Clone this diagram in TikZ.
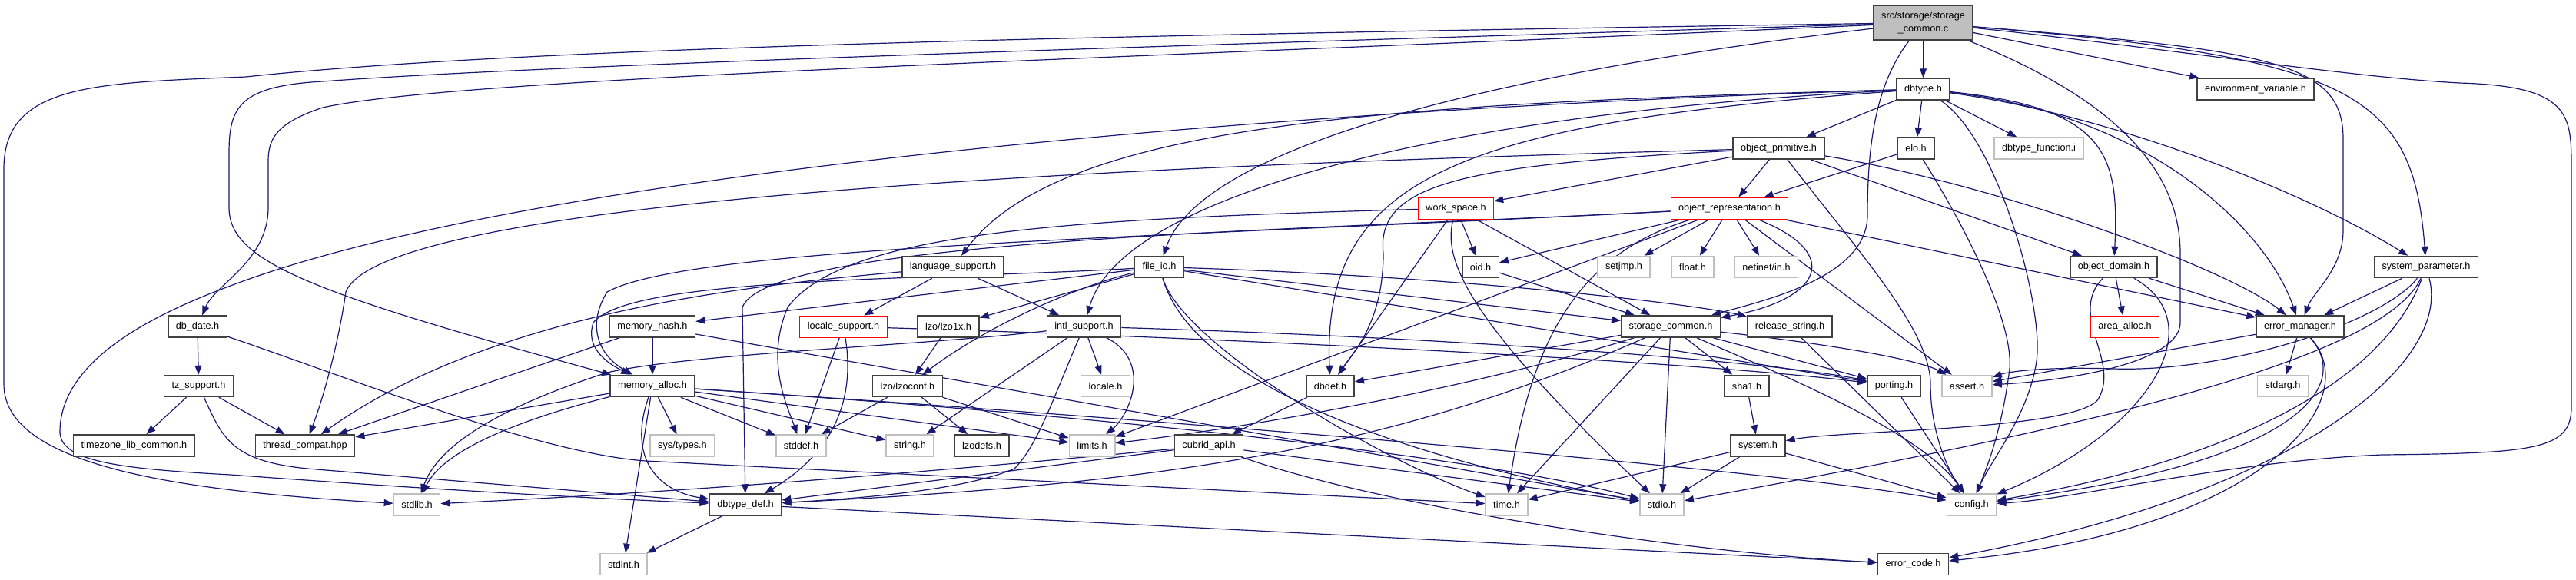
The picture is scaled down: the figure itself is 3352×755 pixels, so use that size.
\documentclass[tikz,border=0pt]{standalone}
\usepackage{fontspec}
\setmainfont{Liberation Sans}
\usepackage{tikz}
\usetikzlibrary{arrows.meta,backgrounds}
\definecolor{depblue}{HTML}{191970}
\definecolor{hdrgray}{HTML}{404040}
\definecolor{sysgray}{HTML}{BFBFBF}

\begin{document}
\begin{tikzpicture}[
x=1pt, y=-1pt,
every node/.style={font=\fontsize{12.7}{16.7}\selectfont},
hdr/.style={draw=hdrgray, line width=1.5pt, fill=white, minimum height=28pt, inner xsep=10pt, inner ysep=0pt},
sys/.style={hdr, draw=sysgray},
trunc/.style={hdr, draw=red, line width=1pt},
mainfile/.style={hdr, fill=sysgray, minimum height=45pt, align=center},
dep/.style={-{Triangle[length=12pt,width=9pt]}, depblue, line width=1.2pt}
]
\useasboundingbox (0,0) rectangle (3352,755);

\node[mainfile] (root) at (2502.5,29.5) {src/storage/storage\\\_common.c};
\node[hdr] (dbtype) at (2502.5,116) {dbtype.h};
\node[hdr] (envvar) at (2935,116) {environment\_variable.h};
\node[hdr] (objprim) at (2314.5,193) {object\_primitive.h};
\node[hdr] (elo) at (2493,193) {elo.h};
\node[sys] (dbtfunc) at (2653,193) {dbtype\_function.i};
\node[trunc] (workspace) at (1894.5,271) {work\_space.h};
\node[trunc] (objrep) at (2250.5,271) {object\_representation.h};
\node[hdr] (langsup) at (1240,347.5) {language\_support.h};
\node[hdr] (fileio) at (1508.5,347.5) {file\_io.h};
\node[hdr] (oid) at (1926.5,347.5) {oid.h};
\node[sys] (setjmp) at (2113,347.5) {setjmp.h};
\node[sys] (float) at (2202.5,347.5) {float.h};
\node[sys] (netinet) at (2298.5,347.5) {netinet/in.h};
\node[hdr] (objdom) at (2750.5,347.5) {object\_domain.h};
\node[hdr] (syspar) at (3157,347.5) {system\_parameter.h};
\node[hdr] (dbdate) at (257,425) {db\_date.h};
\node[hdr] (memhash) at (849,425) {memory\_hash.h};
\node[trunc] (locsup) at (1097.5,425) {locale\_support.h};
\node[hdr] (lzo1x) at (1234,425) {lzo/lzo1x.h};
\node[hdr] (intlsup) at (1410.5,425) {intl\_support.h};
\node[hdr] (stcommon) at (2174,425) {storage\_common.h};
\node[hdr] (relstr) at (2329,425) {release\_string.h};
\node[trunc] (areaalloc) at (2765,425) {area\_alloc.h};
\node[hdr] (errmgr) at (2993,425) {error\_manager.h};
\node[hdr] (tzsup) at (258.5,502.5) {tz\_support.h};
\node[hdr] (memalloc) at (849,502.5) {memory\_alloc.h};
\node[hdr] (lzoconf) at (1181,502.5) {lzo/lzoconf.h};
\node[sys] (locale) at (1438.5,502.5) {locale.h};
\node[hdr] (dbdef) at (1731,502.5) {dbdef.h};
\node[hdr] (sha1) at (2273,502.5) {sha1.h};
\node[hdr] (porting) at (2464.5,502.5) {porting.h};
\node[sys] (assert) at (2559.5,502.5) {assert.h};
\node[sys] (stdarg) at (2970.5,502.5) {stdarg.h};
\node[hdr] (tzlib) at (174.5,580) {timezone\_lib\_common.h};
\node[hdr] (threadc) at (397,580) {thread\_compat.hpp};
\node[sys] (systypes) at (888,580) {sys/types.h};
\node[sys] (stddef) at (1042.5,580) {stddef.h};
\node[sys] (string) at (1184,580) {string.h};
\node[hdr] (lzodefs) at (1277.5,580) {lzodefs.h};
\node[sys] (limits) at (1421,580) {limits.h};
\node[hdr] (cubridapi) at (1573,580) {cubrid\_api.h};
\node[hdr] (system) at (2287.5,580) {system.h};
\node[sys] (stdlib) at (542.5,657) {stdlib.h};
\node[hdr] (dbtypedef) at (970,657) {dbtype\_def.h};
\node[sys] (time) at (1960.5,657) {time.h};
\node[sys] (stdio) at (2162.5,657) {stdio.h};
\node[sys] (config) at (2565.5,657) {config.h};
\node[sys] (stdint) at (811.5,734.5) {stdint.h};
\node[hdr] (errcode) at (2489.5,734.5) {error\_code.h};

\begin{scope}[on background layer]
\draw[dep] (root) -- (dbtype);
\draw[dep] (root) -- (envvar);
\draw[dep] (root) .. controls (1500,45) and (700,60) .. (320,100) .. controls (120,108) and (5,110) .. (5,220) -- (5,500) .. controls (5,610) and (250,640) .. (stdlib);
\draw[dep] (root) .. controls (1500,60) and (700,85) .. (420,106) .. controls (310,112) and (298,140) .. (298,200) -- (298,270) .. controls (298,340) and (400,380) .. (memalloc);
\draw[dep] (root) .. controls (1500,75) and (600,100) .. (420,140) .. controls (360,160) and (349,180) .. (349,210) -- (349,270) .. controls (349,340) and (280,370) .. (dbdate);
\draw[dep] (root) .. controls (1900,100) and (1560,200) .. (fileio);
\draw[dep] (root) .. controls (2440,110) and (2430,190) .. (2430,280) .. controls (2430,360) and (2300,390) .. (stcommon);
\draw[dep] (root) .. controls (2780,140) and (2837,240) .. (2837,330) -- (2837,420) .. controls (2837,470) and (2700,495) .. (assert);
\draw[dep] (root) .. controls (2950,65) and (3049,80) .. (3049,180) -- (3049,300) .. controls (3049,350) and (3010,380) .. (errmgr);
\draw[dep] (root) .. controls (3060,75) and (3140,120) .. (syspar);
\draw[dep] (root) .. controls (2800,60) and (3050,100) .. (3200,108) .. controls (3346,112) and (3346,150) .. (3346,220) -- (3346,530) .. controls (3346,585) and (3300,590) .. (3100,592) .. controls (2900,600) and (2700,650) .. (config);

\draw[dep] (dbtype) -- (objprim);
\draw[dep] (dbtype) -- (elo);
\draw[dep] (dbtype) -- (dbtfunc);
\draw[dep] (dbtype) .. controls (2740,140) and (2758,200) .. (objdom);
\draw[dep] (dbtype) .. controls (2750,150) and (3000,250) .. (syspar);
\draw[dep] (dbtype) .. controls (2800,150) and (2950,300) .. (errmgr);
\draw[dep] (dbtype) .. controls (2600,180) and (2660,400) .. (2650,470) .. controls (2640,540) and (2590,600) .. (config);
\draw[dep] (dbtype) .. controls (1800,135) and (1380,160) .. (langsup);
\draw[dep] (dbtype) .. controls (1900,145) and (1460,250) .. (intlsup);
\draw[dep] (dbtype) .. controls (1900,160) and (1720,230) .. (dbdef);
\draw[dep] (dbtype) .. controls (1700,140) and (700,220) .. (300,372) .. controls (170,420) and (80,480) .. (78,560) .. controls (76,600) and (150,610) .. (300,618) .. controls (600,640) and (800,650) .. (dbtypedef);

\draw[dep] (objprim) -- (workspace);
\draw[dep] (objprim) -- (objrep);
\draw[dep] (objprim) -- (objdom);
\draw[dep] (objprim) .. controls (2600,240) and (2900,350) .. (errmgr);
\draw[dep] (objprim) .. controls (2420,330) and (2512,430) .. (2512,500) .. controls (2512,570) and (2540,620) .. (config);
\draw[dep] (objprim) .. controls (1900,215) and (1790,240) .. (1800,330) .. controls (1800,420) and (1760,460) .. (dbdef);
\draw[dep] (objprim) .. controls (1500,215) and (500,255) .. (450,380) .. controls (440,450) and (420,520) .. (threadc);

\draw[dep] (elo) -- (objrep);
\draw[dep] (elo) .. controls (2560,300) and (2620,420) .. (2615,480) .. controls (2605,560) and (2585,610) .. (config);

\draw[dep] (workspace) -- (oid);
\draw[dep] (workspace) -- (dbdef);
\draw[dep] (workspace) -- (stcommon);
\draw[dep] (workspace) .. controls (1880,330) and (1890,400) .. (stdio);
\draw[dep] (workspace) .. controls (1400,285) and (1100,300) .. (1025,400) .. controls (995,470) and (1025,530) .. (stddef);

\draw[dep] (objrep) -- (oid);
\draw[dep] (objrep) -- (setjmp);
\draw[dep] (objrep) -- (float);
\draw[dep] (objrep) -- (netinet);
\draw[dep] (objrep) .. controls (2400,330) and (2370,390) .. (stcommon);
\draw[dep] (objrep) -- (errmgr);
\draw[dep] (objrep) -- (assert);
\draw[dep] (objrep) -- (limits);
\draw[dep] (objrep) .. controls (2050,330) and (1990,450) .. (time);
\draw[dep] (objrep) .. controls (1500,310) and (900,320) .. (790,380) .. controls (765,420) and (775,460) .. (memalloc);
\draw[dep] (objrep) .. controls (1700,300) and (1000,310) .. (966,400) -- (dbtypedef);

\draw[dep] (langsup) -- (locsup);
\draw[dep] (langsup) -- (intlsup);
\draw[dep] (langsup) .. controls (1000,370) and (650,400) .. (threadc);

\draw[dep] (fileio) -- (memhash);
\draw[dep] (fileio) .. controls (1200,365) and (820,360) .. (772,420) .. controls (762,450) and (785,470) .. (memalloc);
\draw[dep] (fileio) -- (lzo1x);
\draw[dep] (fileio) .. controls (1410,370) and (1290,420) .. (lzoconf);
\draw[dep] (fileio) -- (stcommon);
\draw[dep] (fileio) .. controls (1900,360) and (2200,395) .. (relstr);
\draw[dep] (fileio) -- (porting);
\draw[dep] (fileio) .. controls (1540,450) and (1800,600) .. (time);
\draw[dep] (fileio) .. controls (1560,520) and (1900,610) .. (stdio);

\draw[dep] (memhash) -- (memalloc);
\draw[dep] (memhash) -- (threadc);
\draw[dep] (memhash) -- (stdio);

\draw[dep] (memalloc) -- (systypes);
\draw[dep] (memalloc) -- (stddef);
\draw[dep] (memalloc) -- (string);
\draw[dep] (memalloc) -- (limits);
\draw[dep] (memalloc) .. controls (700,540) and (580,580) .. (stdlib);
\draw[dep] (memalloc) -- (stdint);
\draw[dep] (memalloc) .. controls (815,600) and (860,640) .. (dbtypedef);
\draw[dep] (memalloc) -- (threadc);
\draw[dep] (memalloc) .. controls (1500,545) and (2300,610) .. (config);
\draw[dep] (memalloc) .. controls (1500,545) and (1950,600) .. (stdio);

\draw[dep] (locsup) -- (stddef);
\draw[dep] (locsup) .. controls (1110,500) and (1100,580) .. (dbtypedef);
\draw[dep] (locsup) .. controls (1600,440) and (2200,470) .. (porting);

\draw[dep] (lzo1x) -- (lzoconf);

\draw[dep] (intlsup) -- (locale);
\draw[dep] (intlsup) -- (string);
\draw[dep] (intlsup) .. controls (1500,470) and (1470,540) .. (limits);
\draw[dep] (intlsup) .. controls (1370,520) and (1350,580) .. (1320,610) .. controls (1250,640) and (1100,650) .. (dbtypedef);
\draw[dep] (intlsup) .. controls (1200,450) and (900,460) .. (790,485) .. controls (650,530) and (570,580) .. (stdlib);
\draw[dep] (intlsup) .. controls (1900,440) and (2300,470) .. (porting);

\draw[dep] (lzoconf) -- (stddef);
\draw[dep] (lzoconf) -- (lzodefs);
\draw[dep] (lzoconf) -- (limits);

\draw[dep] (stcommon) -- (dbdef);
\draw[dep] (stcommon) -- (sha1);
\draw[dep] (stcommon) -- (porting);
\draw[dep] (stcommon) .. controls (2400,450) and (2500,470) .. (assert);
\draw[dep] (stcommon) -- (time);
\draw[dep] (stcommon) -- (stdio);
\draw[dep] (stcommon) .. controls (2300,480) and (2500,560) .. (config);
\draw[dep] (stcommon) .. controls (1900,510) and (1600,560) .. (limits);
\draw[dep] (stcommon) .. controls (1800,590) and (1500,630) .. (dbtypedef);

\draw[dep] (relstr) -- (config);
\draw[dep] (dbdef) -- (cubridapi);
\draw[dep] (sha1) -- (system);
\draw[dep] (porting) -- (config);
\draw[dep] (oid) -- (stcommon);

\draw[dep] (system) -- (time);
\draw[dep] (system) -- (stdio);
\draw[dep] (system) -- (config);

\draw[dep] (cubridapi) -- (dbtypedef);
\draw[dep] (cubridapi) .. controls (1200,615) and (900,640) .. (stdlib);
\draw[dep] (cubridapi) -- (stdio);
\draw[dep] (cubridapi) .. controls (1800,660) and (2200,720) .. (errcode);

\draw[dep] (dbtypedef) -- (stdint);
\draw[dep] (dbtypedef) -- (errcode);

\draw[dep] (objdom) -- (areaalloc);
\draw[dep] (objdom) -- (errmgr);
\draw[dep] (objdom) .. controls (2880,420) and (2800,560) .. (config);
\draw[dep] (objdom) .. controls (2690,410) and (2760,470) .. (2730,520) .. controls (2700,560) and (2400,560) .. (system);

\draw[dep] (syspar) -- (errmgr);
\draw[dep] (syspar) .. controls (3100,420) and (2900,485) .. (2750,480) .. controls (2650,477) and (2610,485) .. (assert);
\draw[dep] (syspar) .. controls (3100,500) and (2900,600) .. (config);
\draw[dep] (syspar) .. controls (3100,470) and (2700,560) .. (stdio);
\draw[dep] (syspar) .. controls (3190,470) and (3000,640) .. (errcode);

\draw[dep] (errmgr) -- (stdarg);
\draw[dep] (errmgr) -- (assert);
\draw[dep] (errmgr) .. controls (3060,500) and (3000,600) .. (config);
\draw[dep] (errmgr) .. controls (3080,520) and (2950,690) .. (errcode);

\draw[dep] (tzsup) -- (tzlib);
\draw[dep] (tzsup) -- (threadc);
\draw[dep] (tzsup) .. controls (290,570) and (300,600) .. (400,610) -- (dbtypedef);

\draw[dep] (dbdate) -- (tzsup);
\draw[dep] (dbdate) .. controls (450,490) and (700,590) .. (840,600) -- (time);
\end{scope}
\end{tikzpicture}
\end{document}
